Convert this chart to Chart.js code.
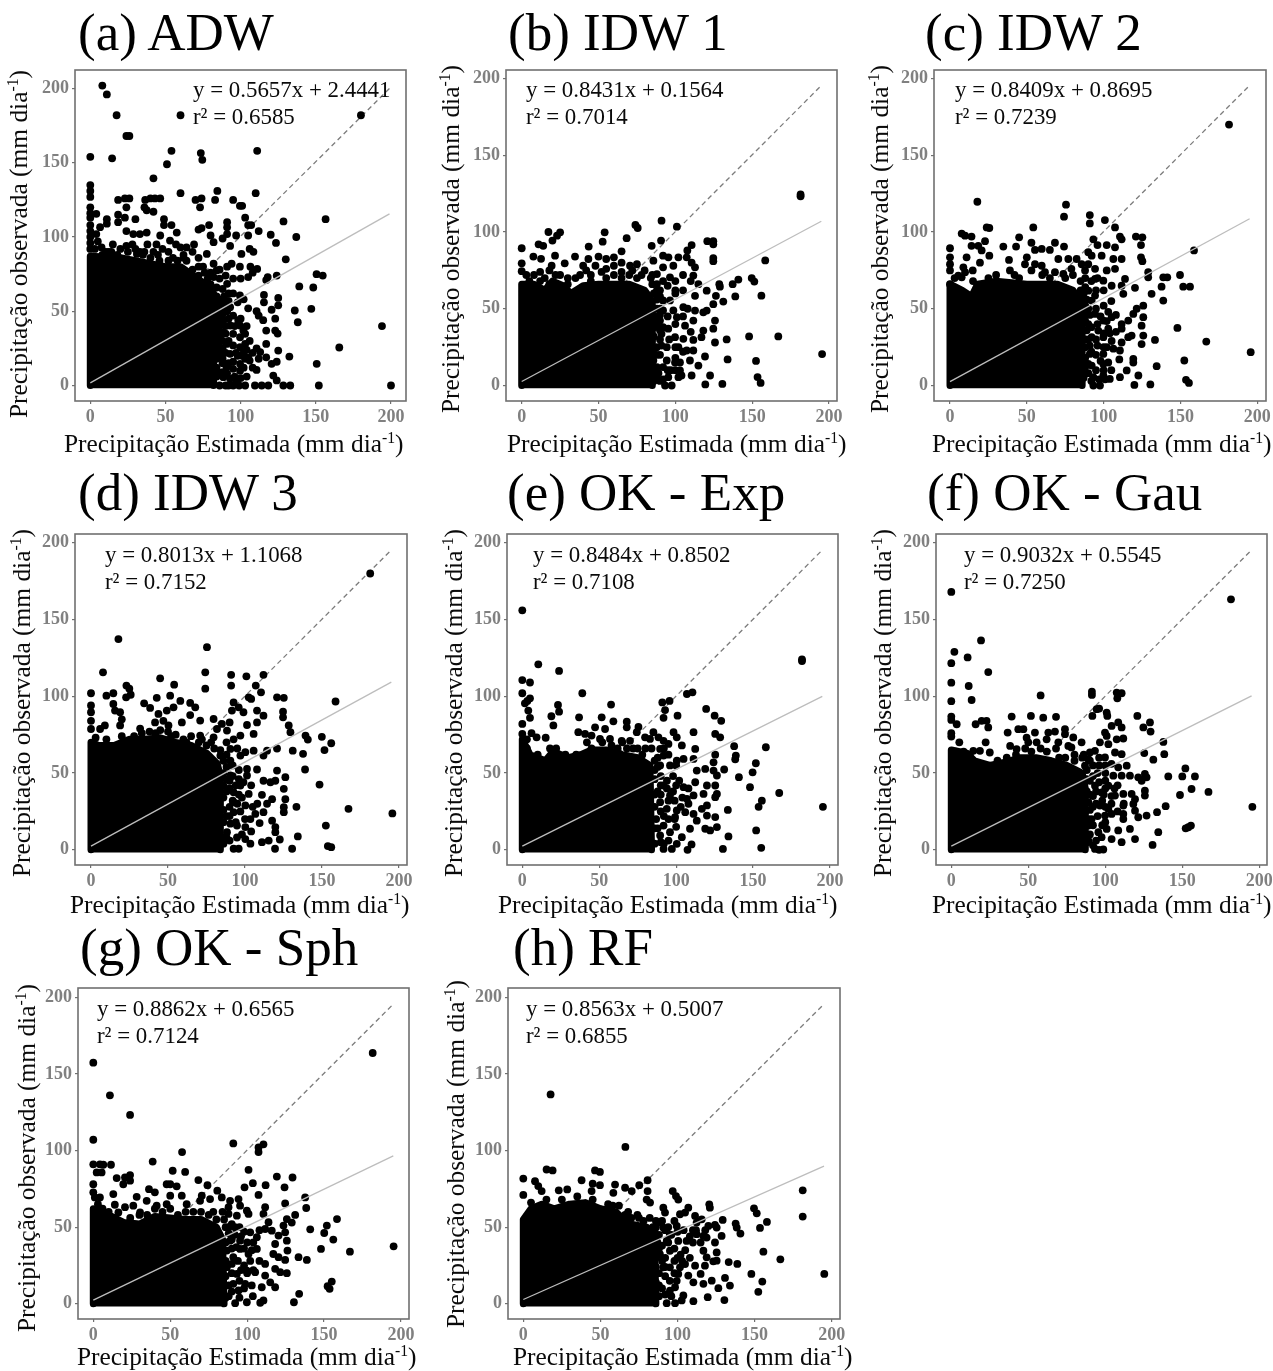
<!DOCTYPE html>
<html lang="pt">
<head>
<meta charset="utf-8">
<title>Precipitação observada vs estimada</title>
<script src="https://cdn.jsdelivr.net/npm/chart.js@4"></script>
<style>
html,body{margin:0;padding:0;background:#fff;width:1273px;height:1371px;overflow:hidden;position:relative}
canvas{position:absolute;display:block}
.t{position:absolute;white-space:nowrap;font-family:"Liberation Serif","Times New Roman",serif;color:#0a0a0a;line-height:1}
.title{font-size:53px;color:#000}
.eq{font-size:22.9px}
.ax{font-size:25.4px}
.ax sup{font-size:.62em;line-height:0;vertical-align:.55em}
.yl{transform-origin:0 0;transform:rotate(-90deg)}
</style>
</head>
<body>
<script>
/* ---------- text ---------- */
const panelTitles = ["(a) ADW","(b) IDW 1","(c) IDW 2","(d) IDW 3","(e) OK - Exp","(f) OK - Gau","(g) OK - Sph","(h) RF"];
const equations = ["y = 0.5657x + 2.4441","y = 0.8431x + 0.1564","y = 0.8409x + 0.8695","y = 0.8013x + 1.1068","y = 0.8484x + 0.8502","y = 0.9032x + 0.5545","y = 0.8862x + 0.6565","y = 0.8563x + 0.5007"];
const r2Labels = ["r² = 0.6585","r² = 0.7014","r² = 0.7239","r² = 0.7152","r² = 0.7108","r² = 0.7250","r² = 0.7124","r² = 0.6855"];
const xAxisLabel = "Precipitação Estimada (mm dia";
const yAxisLabel = "Precipitação observada (mm dia";
const axisSup = "-1";
const tickValues = [0,50,100,150,200];

/* ---------- fitted (solid) and 1:1 (dashed) lines ---------- */
const fitA=[[0,1.8],[199,115.6]], refA=[[0,0],[199,200]];
const fitB=[[0,2.6],[195,107]],   refB=[[0,0],[195,195.4]];
const fitC=[[0,2.5],[195,108.6]], refC=[[0,0],[195,195.5]];
const fitD=[[0,2.4],[195,109.2]], refD=[[0,0],[195,195.3]];
const fitE=[[0,2.4],[195,99.9]],  refE=[[0,0],[195,195.3]];
const fitF=[[0,2.4],[195,100.3]], refF=[[0,0],[195,195.3]];
const fitG=[[0,2.4],[195,96.5]],  refG=[[0,0],[195,195.5]];
const fitH=[[0,2.8],[195,89.8]],  refH=[[0,0],[195,195.5]];

/* ---------- upper outline of the saturated black cloud ---------- */
const massA=[[0,0],[0,87],[20,86],[40,82],[50,80],[60,80],[70,73],[78,67],[82,62],[82,0]];
const massB=[[0,0],[0,66],[8,66],[15,62],[20,68],[27,65],[32,60],[40,65],[50,66],[60,66],[70,66],[80,62],[85,55],[85,0]];
const massC=[[0,0],[0,66],[8,62],[14,58],[18,66],[30,68],[40,67],[50,66],[60,66],[70,66],[80,62],[85,55],[86,48],[86,0]];
const massD=[[0,0],[0,70],[5,68],[15,68],[25,72],[35,72],[45,73],[55,70],[65,68],[75,63],[82,56],[84,48],[84,0]];
const massE=[[0,0],[0,72],[5,62],[15,58],[20,64],[30,60],[38,62],[45,65],[55,65],[65,62],[75,60],[83,55],[84,0]];
const massF=[[0,0],[0,65],[10,63],[15,58],[25,55],[35,57],[45,60],[55,60],[65,58],[75,55],[85,50],[87,40],[87,0]];
const massG=[[0,0],[0,62],[10,58],[20,53],[30,52],[40,57],[50,56],[60,55],[70,55],[80,50],[84,42],[85,0]];
const massH=[[0,0],[0,55],[5,62],[12,65],[20,62],[30,65],[40,66],[50,62],[60,60],[65,55],[70,52],[80,50],[85,45],[86,0]];

/* ---------- individually visible points ---------- */
const pointsA=[[8,202],[11,196],[17.5,182],[24,168],[26,168],[0,154],[14.5,153],[60,182],[180,182],[54,158],[51,149],[73.5,156.5],[74.5,152],[111,158],[42,139.5],[60,129.5],[84.5,131],[110,129.5],[0,135],[0,131],[0,127],[0,120],[0,116],[0,113],[0,108],[0,104],[0,100],[0,96],[0,92],[18.5,125],[23,126],[26,126],[24,120],[36.5,125],[40,126],[43,126],[46.5,126],[36,120],[37.5,118],[42,117],[70,125],[74,126],[73,120],[83,125],[95,125],[99.5,121],[101,121],[103,113],[128.5,110.5],[156.5,112],[137,100],[105,108],[107,108],[91,110],[91,106.5],[105,101],[112,104],[120,101.5],[123.5,96],[130,85],[4,115.6],[11,112],[11,109],[6.5,106.6],[4,102],[18.5,115],[18.5,110],[23,113],[30,112],[28.6,102],[33,102],[37.5,103],[24,104],[49,112],[49,108],[54,108],[46.5,101],[57.5,103],[53,97.6],[72,105],[74,106],[79,108],[80,101],[82,96.5],[88,99],[91,102],[97,101],[93,94],[100.5,88.6],[106,92],[108.5,90],[99.5,80],[106.5,80],[111,78.5],[105,73],[118,73],[124,74],[117,71],[64,93],[69,95],[60,93],[44,95],[31,88.6],[15,95],[7.5,93],[77.5,88.6],[82,82],[84,77.5],[91,80],[94,82],[82,73],[86,72],[91,68.5],[95,62],[99.5,60.6],[115.5,61],[115.5,56],[125,59],[125,54],[120.6,51],[110.6,50],[112,47],[115,44],[123,45],[123,37],[117,37],[124.6,35],[117,28],[110.6,25],[113,22.5],[125,23.5],[117,19],[132.4,19.5],[124,16],[120.6,14.6],[110.6,10.5],[121.7,6.7],[124,3.4],[128.4,0],[133,0],[109.5,0],[114,0],[118.4,0],[103,0],[136,50.5],[138,42.6],[147,51.6],[148.3,66],[139,66.7],[150.5,75],[154.6,74],[194,40],[165.6,25.6],[150.6,14.6],[152,0],[200,0],[93,52.7],[95,47],[98.4,43.8],[99.6,40.4],[101.8,37],[93,40.4],[95,34.8],[99.6,32.5],[103,34.8],[90.7,28],[95,27],[99.6,25.8],[103,28],[93,21.3],[105,19],[103,18],[106,16.8],[99.6,14.6],[95,11.2],[99.6,10],[93,4.5],[97.3,3.4],[88.5,5.6],[90.7,12.3],[86.3,21.3],[86.3,32.5],[84,43.8],[88.5,43.8],[86,52],[88,58],[90,55],[84,25],[84,12],[86,0],[90,0],[95,0],[99,0],[10,90],[25,90],[35,88],[45,88],[55,86],[62,86],[72,80],[76,76],[84,66],[5,97],[12,90],[20,92],[28,95],[33,90],[38,95],[42,90],[48,92],[52,90],[57,95],[62,88],[68,90],[72,86],[75,80],[80,76],[86,78],[90,74],[95,72],[100,72],[108,76],[88,65],[92,62],[98,56],[102,58],[105,52],[88,52],[92,45],[96,40],[100,45],[104,40],[106,30],[108,22],[102,22],[98,20],[90,35],[86,40],[84,35],[88,25],[92,15],[88,15],[85,8],[91,8],[96,6],[100,5],[104,6],[108,12],[112,18],[84,60],[86,56],[89,60],[92,57],[84,52],[88,48],[91,50],[84,48],[86,44],[90,40],[84,38],[88,36],[92,30],[85,30],[88,30],[86,26],[90,22],[84,18],[88,18],[95,16],[84,6],[88,9],[92,0],[97,22],[101,20],[104,24],[102,12],[3,92],[8,88],[14,90],[18,88],[24,94],[30,92],[36,90],[40,86],[46,84],[52,84],[58,84],[64,84],[68,78],[72,74],[78,72],[80,68]];
const pointsB=[[181.5,123.3],[181.5,124.5],[158.5,81.5],[195.5,20.5],[167,32],[148,32],[152.5,16],[153.5,5.5],[155.5,1.7],[156,58.5],[149.7,70],[151.4,67.7],[141,69],[137.3,66],[139,58],[133.4,30],[134,17],[130.6,1],[119.5,0.7],[122.6,6.5],[0,89.4],[0,79.6],[0,74.5],[7.6,84],[12.6,82.5],[11,92],[14,91],[17.4,100],[23,97.6],[25,99.8],[20,94.4],[21.7,84.6],[19.5,78],[28,79.6],[34.7,84],[43.6,90.5],[54,99.8],[52.7,93.7],[68.3,96],[74,104.6],[75.5,102.6],[91,107.4],[101,103.5],[84.6,91],[90.7,94.4],[65,87.4],[50,84],[43.4,82.4],[55,82.4],[60,83.5],[40,78],[65,80],[75,79],[70.5,78],[92,84.6],[95.5,83.5],[85.7,81.3],[102,83.5],[107.4,83.5],[110.6,80],[107.8,88],[110.6,91.5],[120.8,94],[124.7,94],[124.7,92],[124.7,83],[124.7,81],[112.8,77],[98.7,78],[92,77],[88,72.6],[96.5,70.5],[111.7,71.6],[115,66],[120.4,61.8],[112.8,58.4],[128.6,66],[129,64.4],[126.4,58.4],[131.2,54.7],[124.7,53],[120.4,48.8],[118.2,47.7],[125.8,42.3],[124.7,37],[112.8,48.8],[111.7,42.3],[105.2,51],[101,44.5],[106.3,39],[118.2,35.8],[117,31.5],[111.7,29.7],[125.8,28],[105.2,30.4],[111.7,22.8],[102,25],[107.4,22.8],[119.3,18.9],[109.5,16.3],[115,13],[103,9.8],[104,6.5],[110.6,6.5],[94.4,16.3],[99.8,15],[92,12],[95.4,5.4],[102,5.4],[93.3,0],[97.6,0],[92,55.4],[96.5,55.4],[92,48.9],[98.7,48.9],[90,42.3],[95.4,37],[99.8,31.5],[91,33.7],[87.9,25],[94.4,25],[84.6,29.3],[85.7,16.3],[87.9,6.5],[83.5,5.4],[60,72],[45,72],[35,70],[25,72],[15,70],[8,72],[5,68],[52,74],[70,72],[78,72],[85,66],[90,62],[100,62],[3,72],[12,74],[18,75],[22,72],[30,70],[38,72],[42,75],[48,78],[55,76],[60,78],[65,74],[72,75],[80,75],[85,72],[88,66],[95,65],[100,68],[105,72],[110,68],[100,60],[105,62],[90,50],[95,45],[100,40],[105,45],[88,45],[86,38],[90,30],[96,30],[100,25],[105,22],[90,20],[95,10],[88,12],[86,3],[90,3],[100,10],[110,35],[108,50],[86,60],[88,56],[90,58],[86,50],[88,50],[90,46],[86,44],[88,40],[92,38],[86,32],[90,36],[86,24],[88,20],[91,26],[85,20],[85,10],[89,8],[92,4],[97,10],[100,18],[103,15],[88,62],[92,68],[84,70],[75,70],[65,70],[55,70],[45,68],[30,66],[12,68],[18,66]];
const pointsC=[[181.6,170],[158.8,88],[195.7,21.7],[166.8,28.6],[148,37.5],[152.5,16.3],[153.6,3.7],[155.5,1.7],[149.7,72],[151.8,64.4],[156.2,64.4],[138.8,70.5],[141.4,70.5],[137.7,64.4],[131.2,59.7],[138.8,55.3],[133.4,29.7],[134.5,12.6],[130.4,0.7],[120,0.4],[122.6,6.5],[17.8,119.7],[75.5,117.8],[74.2,110],[91,111],[91,105.6],[100.8,107.8],[107.4,103],[54.2,103],[23.9,103],[25.6,102.6],[7.6,99],[9.8,97.6],[14,97],[45,96.5],[0,89.4],[22.8,94],[14,91],[18.4,91],[20.6,88],[34.7,90.5],[43,90.5],[53,93],[68.3,93],[74.2,90.5],[55.3,88.3],[59.7,89],[65,88.3],[93.3,95.2],[96,91.5],[102,91.5],[107.4,90],[110.6,97],[111.7,95.2],[121,97],[125.2,96.5],[124.3,91.5],[124.3,83.5],[125.2,81],[90,86.8],[92.2,84.6],[98.7,84.6],[106.3,82.4],[111.7,82.4],[129,73.8],[129,70.5],[120.4,63.6],[0,83.5],[0,79],[0,75],[0,66],[10.8,83.5],[8.7,77],[5.4,71.6],[7.6,70.5],[9.8,73.8],[14.8,75],[19.5,80],[25.6,84.6],[38.4,81.8],[39,75],[50,83.5],[48.8,79],[55.3,79],[59.7,78],[53,75],[61.8,73.8],[70.5,82.4],[77,82.4],[82.4,82.4],[68.3,73.8],[73.8,72.7],[85.7,79],[90,79],[79,76],[87.9,75],[94.4,76],[102,75],[107.4,76],[94.4,69.4],[99.8,68.3],[113.9,69.4],[105.2,65],[111.7,65],[112.8,59.7],[90,61.8],[94.4,58.6],[92.2,55.3],[85.7,57.5],[125.8,52],[121.5,50],[119.3,46.6],[116,42.3],[111.7,40],[111.7,37],[125.8,44.5],[124.7,39],[125.8,32.5],[124.7,27],[118.2,32.5],[116,31.5],[111.7,28],[110.6,22.8],[105.2,44.5],[99.8,42.3],[103,37],[96.5,35.8],[99.8,31.5],[105.2,29],[102,25],[106.3,24],[99.8,20.6],[119.3,17.4],[119.3,15],[110.2,17],[103,15],[99.8,14],[115,9.8],[110.6,5.4],[104,4.3],[99.8,6.5],[93.3,5.4],[93.3,0],[97.6,0],[92.2,13],[87.9,14],[92.2,31.5],[90,40],[94.4,46.6],[90,50],[87.9,25],[91,20.6],[3,70],[15,68],[25,70],[30,72],[42,72],[45,70],[60,72],[65,70],[75,70],[80,72],[85,68],[88,70],[95,62],[100,62],[105,55],[100,52],[95,50],[103,48],[108,46],[88,42],[92,38],[90,30],[95,30],[100,25],[95,20],[88,18],[90,8],[95,10],[100,10],[87,5],[105,10],[108,35],[87,60],[89,56],[88,52],[91,46],[88,46],[89,36],[88,30],[91,26],[88,12],[90,14],[92,22],[96,40],[96,26],[98,45],[100,34],[104,34],[102,42],[98,16],[92,3],[97,4],[101,4],[88,64],[92,68],[96,70],[85,62]];
const pointsD=[[181.3,180],[158.8,96.6],[195.7,23.7],[167.2,26.7],[148.4,42.5],[152.5,15.8],[153.8,2.4],[156,1.7],[149.9,73.6],[151.6,65],[156,69.4],[137.7,62.5],[139.3,74.4],[140.8,71.8],[139,52.3],[133.4,28],[134.3,8.7],[130.6,0.7],[119.5,0.7],[122.6,6.7],[131,64.6],[17.8,137.3],[75.3,132],[74.2,115.6],[74.2,105],[7.8,115.6],[44.9,111.7],[54,107.6],[91,114],[91,107],[100.9,113],[112,114],[107,107],[102.4,99.3],[104,98.3],[110.4,102.6],[120.8,99.3],[125.2,99],[124.7,90],[124.7,86.3],[0,102],[0,94],[0,89.6],[0,84],[0,78.7],[10,100.4],[14.5,102],[23,107],[24.9,105],[22.8,99.3],[25.8,101],[14.5,95],[15.6,90.7],[18.9,89.6],[20,85],[18.9,81],[9,81],[5.9,78.7],[42.7,99],[51.4,100.4],[34.5,95.4],[38.4,92.4],[43.8,88.5],[49.2,90.7],[53.6,92.8],[58,97],[64.4,95.7],[67.7,92.8],[64.4,87.8],[70.9,84.2],[79.6,85.2],[47,84],[50.3,81],[59,83],[41.6,83],[31.9,79],[92.6,96],[95.9,92.8],[99,89.6],[91.5,90.7],[107.8,90.7],[112,87.4],[107.8,83],[101.3,81.3],[105.6,75.5],[90,83],[85,82],[81.8,78.7],[88.3,77.7],[97,74.4],[92.6,72],[79.6,73.3],[70.9,74.4],[100.2,63.6],[105.6,64.6],[112,61.4],[114.3,64.6],[128.4,81],[129.5,76.6],[90.5,65.7],[97,61.4],[101.3,52.7],[107.8,52.3],[120.8,66],[90.5,58],[84,61.4],[126.2,47.3],[120.8,51.6],[119.7,45],[112,45],[116.5,44],[125.2,39.7],[126.2,33],[111,35.8],[117.6,33],[114.3,30],[125.2,27.8],[125.2,24.5],[112,24.5],[106.7,23.4],[103.5,20],[109.5,17.4],[117.6,19],[119.7,14.8],[119.7,11.5],[111,5],[115.4,6],[100.2,7],[103.5,4],[92.6,0.7],[95.9,0.7],[100.2,14.8],[94.8,15.8],[90.5,17],[88.3,11.5],[94.8,8],[92.6,24.5],[100.2,28.9],[102.4,36.4],[97,41.9],[92.6,37.5],[90.5,48.4],[101.3,48.4],[92.6,31],[3,73],[10,72],[20,74],[28,74],[33,76],[38,77],[45,78],[50,77],[55,75],[60,72],[65,74],[70,70],[75,68],[80,66],[84,65],[88,62],[92,55],[96,52],[90,45],[94,42],[99,44],[104,42],[88,38],[92,32],[97,25],[90,22],[88,22],[105,28],[108,30],[86,8],[90,6],[100,20],[104,12],[86,58],[88,54],[86,50],[88,46],[92,48],[96,46],[86,42],[90,40],[96,36],[98,34],[86,34],[90,28],[95,30],[86,26],[86,18],[88,8],[86,4],[94,18],[98,10],[78,70],[72,72],[62,70],[52,74],[42,76],[88,70],[95,66]];
const pointsE=[[0,156],[181.8,124],[181.8,123],[195.4,28],[167,37],[155.7,32],[153.6,28],[148,40.8],[149.7,50.5],[151.8,56.4],[158.3,66.8],[137.7,67.5],[138.8,61.4],[138.4,59],[140.8,47.3],[131.2,52.3],[133.6,26],[134,8.7],[130.4,0.6],[152,12.6],[155.3,1.3],[107.4,0],[110,3.5],[10.4,120.8],[23.9,116.5],[0,110.6],[5,109],[0,102],[39,102],[107,101.5],[110.6,102.6],[5,98.7],[1.7,95.4],[3.3,97],[3.9,90.7],[5,86],[23.2,94.4],[23.9,90],[57.7,94.6],[91,96],[95.7,97],[92.8,91],[91.8,86],[18.9,87],[36.9,86.3],[20.2,81],[51.6,86.3],[100.9,87.4],[119.5,91.8],[125,87.4],[129.3,84],[0,82],[0,75.5],[6,76],[9.3,73.3],[15.2,73],[59.2,83.7],[67.9,83.5],[67.9,79.8],[75.5,80],[36.4,76.6],[47.3,79.8],[53.8,78.7],[40.8,75.5],[45,74.4],[50.5,72.2],[57,72.2],[64.6,71],[70,71],[74.4,76.6],[79.8,73.3],[83,72.2],[85.2,76.6],[88.5,73.3],[91.8,71],[95,69],[98.3,76.6],[100.4,73.3],[111.3,76.6],[112.4,65.7],[125.4,75.5],[128.6,73.3],[103.7,68],[89.6,65.7],[125.4,62],[124.3,57],[104.8,59.2],[111.3,59.2],[100.4,58],[113.4,51.6],[118.9,52.7],[124.3,51.6],[91.8,61.4],[96,55],[89.6,55],[112.4,44],[120,41.9],[126.5,48.4],[125.4,41.9],[126.5,36.4],[125.4,34.3],[111.3,35.4],[117.8,36.4],[104.8,40.8],[107,33.2],[120,28.9],[116.7,26.7],[111.3,23.4],[113.4,19],[120,22.3],[125.4,21.3],[126.5,14.8],[118.9,13.7],[122.1,12.6],[100.4,25.6],[105.9,24.5],[99.3,21.3],[109,13.7],[103.7,8.2],[100.4,3.9],[91.8,0.6],[97.2,0.6],[91.8,15.8],[96,11.5],[89.6,9.3],[96,35.4],[91.8,41.9],[89.6,31],[93.9,26.7],[3,72],[3,66],[10,62],[18,66],[22,66],[28,62],[35,62],[42,70],[45,66],[52,70],[58,68],[62,66],[68,66],[72,66],[78,62],[84,66],[88,60],[86,52],[90,48],[94,45],[98,48],[102,45],[88,38],[95,32],[99,32],[103,28],[90,25],[87,20],[95,20],[90,5],[86,4],[100,15],[108,40],[86,58],[88,54],[86,46],[90,42],[94,40],[86,36],[90,36],[98,38],[86,28],[92,22],[86,14],[88,14],[92,4],[95,6],[99,20],[104,34],[100,42],[108,30],[95,62],[100,55],[92,66],[80,66],[75,66],[65,70]];
const pointsF=[[0,168],[181.6,163.2],[19.3,136.4],[2,129],[10.6,125.3],[0,121.6],[24,115.8],[0,108.9],[11.3,106.7],[13.2,97.6],[0,96.8],[58,100.6],[91.3,103],[91.3,100.9],[107.4,102.4],[110.6,102],[107.8,98.7],[94.4,91.6],[96,92],[91.6,87.2],[100.9,89.4],[101.3,87.2],[120.8,87.2],[0,86.8],[0,84.6],[3.5,81.8],[15.8,81.8],[19.7,84],[22.9,84],[24,79.7],[39.2,86.8],[51.7,87.2],[59.7,86.1],[68,86.6],[129,83],[129.4,77],[124.7,79.7],[108.4,83],[110.6,79.7],[104.1,80.7],[0,76],[0,73.8],[5.2,70],[36.6,76.4],[43.5,78.6],[46.8,78.6],[54.3,76.4],[63,76.4],[67.3,77],[73.8,78.6],[73.8,75.3],[79.2,73.2],[99.8,76.4],[100.9,74.2],[107.4,72],[111.7,72.5],[137.7,70.3],[138.3,62.3],[125.3,63],[131.2,58.7],[22.3,70],[18.6,64.5],[25,63.4],[14.3,64.5],[38.2,67.7],[42.4,65.6],[48.9,73],[50,70],[55.4,70],[61.9,72],[69.5,70],[76,67.7],[84.6,70],[78,66.7],[90,63.4],[93.3,64.5],[96.5,70],[102,68.8],[106.3,63.4],[110.6,62.3],[99.8,60.2],[89,59],[86.8,54.8],[140.9,47.8],[150,47.8],[152,53],[158.2,47.8],[148.5,35.7],[156,39.6],[167,37.7],[139.2,28.4],[133.6,24.5],[134.4,11.5],[130.7,3.2],[195.5,28],[152.2,14],[153.9,14.7],[155.6,15.8],[121.4,47.2],[126.8,47.2],[125.7,49.4],[123.6,45],[113.9,54.8],[108.4,53.7],[105.2,48.3],[110.6,48.3],[116,48.3],[125.7,38.5],[125.7,35.3],[111.7,36.4],[117.1,36.4],[119.3,33],[118.2,29.9],[119.3,25.5],[111.7,28.8],[111.7,23.4],[111.7,20],[121.4,21.2],[126.8,22.3],[104.1,23.4],[99.8,22.3],[116,13.6],[119.3,7],[110.6,5],[104.1,7],[108.4,12.6],[100.9,13.6],[95.5,11.5],[97.6,8.2],[93.3,0.6],[98.7,0.2],[106.3,35.3],[97.6,37.4],[93.3,41.8],[102,41.8],[89,31],[96.5,28.8],[102,26.6],[89,15.8],[86.8,24.5],[91.1,20],[3,64],[8,64],[12,62],[30,58],[36,60],[42,62],[48,66],[52,64],[58,66],[62,64],[68,66],[74,60],[80,62],[85,60],[88,52],[92,55],[96,60],[100,50],[95,50],[100,45],[106,40],[90,45],[88,38],[92,35],[98,32],[92,28],[95,22],[100,18],[90,10],[94,6],[88,5],[108,25],[112,30],[88,46],[92,48],[96,44],[100,40],[90,36],[94,38],[99,36],[90,26],[94,30],[100,28],[104,30],[89,20],[92,16],[98,16],[89,6],[92,3],[96,0],[104,35],[108,42],[90,58],[96,55],[100,55],[104,56],[86,62],[80,58],[70,60]];
const pointsG=[[0,157.3],[181.6,163.6],[10.8,136],[23.9,123.2],[0,107],[57.7,99],[91,104.6],[107.4,102],[107.4,99],[110.6,104],[38.6,92.8],[0,91],[4.3,91],[6.5,90.7],[11.5,90.7],[2.2,85.7],[5.4,85.7],[51.6,86.8],[59.7,86],[100.9,87.4],[15.2,82],[20.6,82.4],[23.9,84],[23.9,80.3],[19.5,78],[68.3,80.7],[119.3,83],[129.5,82.4],[74.2,77.4],[103.7,78.7],[112,77.4],[98.3,76],[124.3,76],[80.6,73.8],[36.2,74.8],[47.7,78],[50,78],[54.2,76.6],[13,71.6],[28.2,69.8],[107.4,71],[137.7,69.4],[138.4,62.5],[0,78],[0,72.7],[1,69.4],[4.3,69.4],[14,64.6],[20.6,63],[16.3,59.6],[26,64],[30.4,59.6],[40,72.7],[34.7,67.2],[41.2,64],[47.7,65],[50,70.5],[57.5,70.5],[60.7,65],[69.4,67.2],[75.9,68.3],[70.5,70.5],[83.5,69.4],[88.9,67.2],[94.4,68.3],[87.9,63],[95.4,64],[111.7,63],[110.6,58.6],[99.8,60.7],[100.9,58.6],[124.7,65.5],[131.2,58],[87.9,58.6],[93.3,57.5],[158.4,55.3],[151.8,51],[150.1,46.2],[156,41.9],[148,35.8],[166.8,34],[195.2,37.5],[141,48.6],[133.4,30.4],[138.8,28.6],[133.8,6.5],[130.4,1],[155,14.5],[152.3,11.5],[153.6,9.8],[113.9,53.2],[111.7,48.8],[116,47.7],[125.8,55.3],[123.6,51],[124.7,46.6],[120.4,44.5],[129,53],[125.8,41.2],[126.2,34.7],[124.7,28.6],[118.2,39],[117,32.5],[120.4,30.4],[118.2,22.8],[121.5,20.6],[125.8,20],[111.7,26],[111.7,18.4],[115,14],[118.2,10.8],[109.5,10.8],[106.3,43.4],[106.3,35.8],[102,46.6],[99.8,21.7],[105.2,20.6],[98.7,13],[103.7,5],[108.5,0.7],[110.6,2.2],[92.2,0.4],[99.8,1],[94.4,8.7],[91,13],[91,30.4],[95.4,35.8],[88.9,41.2],[86.8,34.7],[95.4,41.2],[100.9,32.5],[86.8,23.9],[93.3,19.5],[3,65],[6,62],[10,60],[24,56],[35,58],[45,60],[55,58],[65,60],[75,58],[80,55],[85,55],[90,52],[95,50],[88,46],[92,45],[98,47],[100,40],[90,36],[94,28],[98,25],[102,28],[90,20],[88,12],[95,15],[88,5],[95,4],[103,12],[108,28],[86,50],[88,50],[92,50],[96,44],[86,40],[90,42],[93,37],[98,36],[103,35],[86,28],[90,26],[96,22],[100,20],[86,18],[90,8],[86,4],[98,10],[104,22],[104,40],[108,48],[84,60],[78,60],[70,60],[60,60],[50,62],[40,62],[30,58]];
const pointsH=[[17.7,136.6],[66.2,102.3],[15.1,87.6],[19,87],[0,81.7],[46.5,87],[49.7,86],[80.6,80.6],[37.8,80.6],[45,78.3],[49.7,77.4],[59.5,77.8],[75.2,77.4],[66,75.7],[7.6,80],[9.7,76.8],[11.9,73.5],[23,74],[28.5,74.6],[44.3,73.5],[58.4,72.4],[70.3,73.5],[80.6,73.5],[0,71],[80,68],[82.2,66],[96.9,73.5],[99,70.3],[100.5,68],[120.6,64.9],[121,62.7],[90.8,62.7],[91.9,59.5],[107,62.7],[104.9,59.5],[101.6,58.4],[149.6,62.3],[151.4,59],[181.2,74],[181.2,56.9],[158,53.4],[153.5,49.5],[137.7,52.3],[138.4,49.7],[140.8,45.8],[129.3,54.7],[124.3,51.5],[125.4,49.7],[128.6,44.3],[111.4,57.3],[115.7,55.1],[112.4,53],[120,50.8],[116.8,44.3],[112.4,45.4],[124.3,40],[118.9,43.2],[155.7,34],[166.7,29],[133.2,27.2],[138.8,26],[125.4,33.5],[125.4,28.1],[123.2,27.7],[116.8,34.6],[118.9,30.3],[117.8,24.9],[111.4,24.9],[104.9,25.9],[101.6,23.8],[100.5,19.5],[107,18.4],[115,19.5],[110.3,14],[116.8,13],[122.2,15.1],[130.8,16.9],[134,11.9],[126.5,10.2],[147.9,19.5],[155,14.5],[152.4,7.8],[195.2,19.5],[119.6,4.3],[130.4,2.4],[110.3,1.7],[103.8,5.4],[102.7,2.2],[93,0.4],[98.4,0.4],[98.4,10.8],[95.1,8.6],[99.5,15],[95.1,23.8],[90.8,23.8],[88.6,32.4],[93,41],[95.1,34.6],[90.8,49.7],[88.6,53],[99.5,50.8],[100.5,41],[105.9,41],[5,66],[15,68],[25,68],[35,70],[45,68],[55,65],[62,64],[68,60],[75,56],[85,48],[88,45],[92,48],[96,45],[100,47],[104,48],[110,48],[90,38],[92,30],[98,28],[88,20],[92,18],[90,10],[88,5],[95,15],[95,45],[105,35],[108,30],[100,30],[87,40],[70,56],[78,54],[82,56],[86,50],[110,40],[115,40],[86,42],[88,36],[86,30],[90,28],[94,40],[98,36],[102,32],[86,24],[92,24],[86,14],[88,12],[92,6],[96,5],[98,20],[103,28],[108,44],[112,48],[118,48],[86,54],[90,54],[94,50],[98,54],[84,50],[74,58],[66,58],[58,64]];

const masses=[massA,massB,massC,massD,massE,massF,massG,massH];
const points=[pointsA,pointsB,pointsC,pointsD,pointsE,pointsF,pointsG,pointsH];
const fits=[fitA,fitB,fitC,fitD,fitE,fitF,fitG,fitH];
const refs=[refA,refB,refC,refD,refE,refF,refG,refH];

/* ---------- page layout (pixels) ---------- */
const frames=[
 {L:75,R:406,T:70,B:401,x0:90.3,x200:391,y0:385.5,y200:88.5},
 {L:506,R:837,T:70,B:401,x0:521.7,x200:829,y0:385.5,y200:78.5},
 {L:934,R:1266,T:70,B:401,x0:950,x200:1257.3,y0:385.5,y200:78.5},
 {L:75,R:407,T:534,B:865,x0:91,x200:399,y0:849.8,y200:542.8},
 {L:507,R:838,T:534,B:865,x0:522.3,x200:830,y0:849.8,y200:542.8},
 {L:936,R:1267,T:534,B:865,x0:951.3,x200:1259.3,y0:849.8,y200:542.8},
 {L:78,R:409,T:988,B:1319,x0:93.3,x200:401,y0:1303.8,y200:997.2},
 {L:508,R:840,T:988,B:1319,x0:523.3,x200:831.7,y0:1303.8,y200:997.2}
];
const textPos=[
 {tx:78,tb:50,ex:193,eb:98,xx:64,xb:452,yb:27,ys:418},
 {tx:508,tb:50,ex:526,eb:98,xx:507,xb:452,yb:459,ys:413},
 {tx:925,tb:50,ex:955,eb:98,xx:932,xb:452,yb:888,ys:413},
 {tx:78,tb:510,ex:105,eb:563,xx:70,xb:913,yb:30,ys:877},
 {tx:507,tb:510,ex:533,eb:563,xx:498,xb:913,yb:462,ys:877},
 {tx:927,tb:510,ex:964,eb:563,xx:932,xb:913,yb:891,ys:877},
 {tx:80,tb:965,ex:97,eb:1017,xx:77,xb:1365,yb:35,ys:1332},
 {tx:513,tb:965,ex:526,eb:1017,xx:513,xb:1365,yb:464,ys:1328}
];
const M={l:45,r:12,t:5,b:30};
const TICK='#808080', FRAME='#707070';

function pairs(a){return a.map(p=>({x:p[0],y:p[1]}));}
function addText(cls,left,top,html){
  const d=document.createElement('div');d.className='t '+cls;
  d.style.left=left+'px';d.style.top=top+'px';d.innerHTML=html;document.body.appendChild(d);
}
const framePlugin={id:'frame',afterDatasetsDraw(c){
  const a=c.chartArea,x=c.ctx;x.save();x.strokeStyle=FRAME;x.lineWidth=1.6;
  x.strokeRect(a.left,a.top,a.right-a.left,a.bottom-a.top);x.restore();}};
function noPad(s){s.paddingTop=0;s.paddingBottom=0;s.paddingLeft=0;s.paddingRight=0;}

frames.forEach((f,i)=>{
  const cv=document.createElement('canvas');
  cv.style.left=(f.L-M.l)+'px';cv.style.top=(f.T-M.t)+'px';
  document.body.appendChild(cv);
  cv.width=f.R-f.L+M.l+M.r;cv.height=f.B-f.T+M.t+M.b;
  cv.style.width=cv.width+'px';cv.style.height=cv.height+'px';
  const sx=(f.x200-f.x0)/200, sy=(f.y0-f.y200)/200;
  const scaleCommon={
    type:'linear',
    grid:{display:true,drawOnChartArea:false,drawTicks:true,tickLength:3,color:FRAME,lineWidth:1.2},
    border:{display:false},
    afterBuildTicks(s){s.ticks=tickValues.map(v=>({value:v}));},
    ticks:{color:TICK,padding:3,maxRotation:0,autoSkip:false,font:{family:'"Liberation Serif"',size:18,weight:'bold'},callback:v=>String(v)}
  };
  new Chart(cv,{
    type:'scatter',
    data:{datasets:[
      {label:'Linha 1:1',type:'line',data:pairs(refs[i]),borderColor:'#7c7c7c',borderWidth:1.3,borderDash:[5,3.5],pointRadius:0,fill:false,order:5},
      {label:'Densidade',type:'line',data:pairs(masses[i]),borderColor:'#000',backgroundColor:'#000',borderWidth:7,borderJoinStyle:'round',borderCapStyle:'round',pointRadius:0,tension:0,fill:{value:-1.8},order:4},
      {label:'Pontos',data:pairs(points[i]),backgroundColor:'#000',borderColor:'#000',pointRadius:3.9,pointBorderWidth:0,order:3},
      {label:'Ajuste',type:'line',data:pairs(fits[i]),borderColor:'#bdbdbd',borderWidth:1.3,pointRadius:0,fill:false,order:1}
    ]},
    plugins:[framePlugin],
    options:{
      responsive:false,animation:false,devicePixelRatio:1,
      layout:{autoPadding:false,padding:{left:0,right:M.r,top:M.t,bottom:0}},
      plugins:{legend:{display:false},tooltip:{enabled:false},title:{display:false}},
      scales:{
        x:{...scaleCommon,position:'bottom',min:(f.L-f.x0)/sx,max:(f.R-f.x0)/sx,afterFit(s){s.height=M.b;noPad(s);}},
        y:{...scaleCommon,position:'left',min:(f.y0-f.B)/sy,max:(f.y0-f.T)/sy,afterFit(s){s.width=M.l;noPad(s);}}
      }
    }
  });
  const t=textPos[i];
  addText('title',t.tx,t.tb-44.4,panelTitles[i]);
  addText('eq',t.ex,t.eb-19.2,equations[i]);
  addText('eq',t.ex,t.eb+27-19.2,r2Labels[i]);
  addText('ax',t.xx,t.xb-21.3,xAxisLabel+'<sup>'+axisSup+'</sup>)');
  addText('ax yl',t.yb-21.3,t.ys,yAxisLabel+'<sup>'+axisSup+'</sup>)');
});
</script>
</body>
</html>
